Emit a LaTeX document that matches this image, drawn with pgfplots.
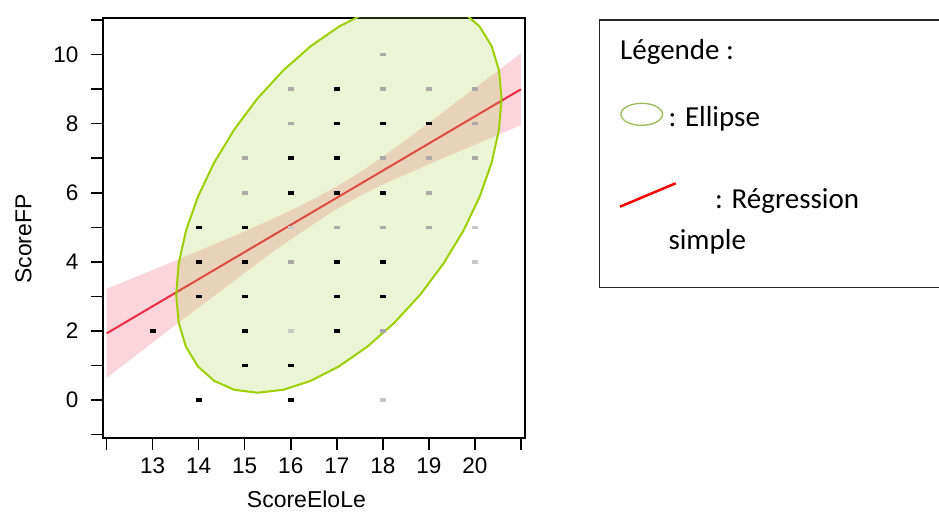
\documentclass[border=0pt]{standalone}
\usepackage{pgfplots}
\pgfplotsset{compat=1.18}
\usepackage{fontspec}
\setmainfont{Liberation Sans}
\newfontfamily\calib{Carlito}
\definecolor{bandpink}{RGB}{252,213,220}
\definecolor{regred}{RGB}{238,44,64}
\definecolor{ellfill}{RGB}{154,205,50}
\definecolor{elldraw}{RGB}{155,207,0}
\definecolor{ptdark}{RGB}{0,0,0}
\definecolor{ptmid}{RGB}{170,170,170}
\definecolor{ptlight}{RGB}{200,200,200}
\definecolor{legolive}{RGB}{155,187,89}
\begin{document}
\begin{tikzpicture}
\useasboundingbox (0pt,0pt) rectangle (939pt,514pt);
\begin{axis}[
  at={(103pt,76pt)}, anchor=south west,
  scale only axis, width=422pt, height=420pt,
  xmin=11.92, xmax=21.09, ymin=-1.10, ymax=11.06,
  xtick={12,...,21}, xticklabels={{},13,14,15,16,17,18,19,20,{}},
  ytick={-1,...,11}, yticklabels={{},0,{},2,{},4,{},6,{},8,{},10,{}},
  tick align=outside, tick pos=left,
  major tick length=12pt,
  axis line style={line width=1.5pt},
  tick style={line width=1.5pt, black},
  xticklabel style={font=\fontsize{22.5}{26}\selectfont, yshift=-4pt},
  yticklabel style={font=\fontsize{22.5}{26}\selectfont, xshift=-9pt},
  xlabel={ScoreEloLe}, ylabel={ScoreFP},
  every axis x label/.style={at={(axis description cs:0.482,-0.146)}, anchor=center, font=\fontsize{23}{27}\selectfont},
  every axis y label/.style={at={(axis description cs:-0.1886,0.4738)}, anchor=center, rotate=90, font=\fontsize{23}{27}\selectfont},
]
% confidence band
\addplot[fill=bandpink, draw=none] coordinates {
(12,3.22) (12.5,3.49) (13,3.765) (13.5,4.04) (14,4.32) (14.5,4.60) (15,4.885) (15.5,5.18) (16,5.49) (16.5,5.82) (17,6.185) (17.5,6.59) (18,7.04) (18.5,7.53) (19,8.025) (19.5,8.53) (20,9.03) (20.5,9.53) (21,10.04)
(21,7.96) (20.5,7.67) (20,7.39) (19.5,7.11) (19,6.825) (18.5,6.53) (18,6.24) (17.5,5.91) (17,5.525) (16.5,5.10) (16,4.65) (15.5,4.18) (15,3.685) (14.5,3.18) (14,2.68) (13.5,2.18) (13,1.665) (12.5,1.15) (12,0.64)};
% regression line
\addplot[regred, line width=2pt] coordinates {(12,1.93) (21,8.995)};
% points
\addplot[only marks, mark=-, mark size=3pt, mark options={line width=3.5pt}, color=ptlight] coordinates {
(16,5) (20,5) (20,4) (16,2) (18,0)};
\addplot[only marks, mark=-, mark size=3pt, mark options={line width=3.5pt}, color=ptmid] coordinates {
(18,10) (16,9) (18,9) (19,9) (20,9) (16,8) (20,8) (15,7) (18,7) (19,7) (20,7) (15,6) (19,6)
(17,5) (18,5) (19,5) (16,4) (18,2)};
\addplot[only marks, mark=-, mark size=3pt, mark options={line width=3.5pt}, color=ptdark] coordinates {
(17,9) (17,8) (18,8) (19,8) (16,7) (17,7) (16,6) (17,6) (18,6)
(14,5) (15,5) (14,4) (15,4) (17,4) (18,4) (14,3) (15,3) (17,3) (18,3)
(13,2) (15,2) (17,2) (15,1) (16,1) (14,0) (16,0)};
% ellipse
\addplot[draw=elldraw, line width=2pt, fill=ellfill, fill opacity=0.2] coordinates {
(20.58,8.73) (20.526,7.833) (20.367,6.876) (20.106,5.89) (19.753,4.904) (19.317,3.947) (18.813,3.05) (18.254,2.239) (17.659,1.539) (17.045,0.971) (16.431,0.553) (15.836,0.296) (15.277,0.21) (14.773,0.296) (14.337,0.553) (13.984,0.971) (13.723,1.539) (13.564,2.239) (13.51,3.05) (13.564,3.947) (13.723,4.904) (13.984,5.89) (14.337,6.876) (14.773,7.833) (15.277,8.73) (15.836,9.541) (16.431,10.241) (17.045,10.809) (17.659,11.227) (18.254,11.484) (18.813,11.57) (19.317,11.484) (19.753,11.227) (20.106,10.809) (20.367,10.241) (20.526,9.541) (20.58,8.73)};
\end{axis}
% legend box
\draw[line width=1.5pt, black!85] (599.3pt,494pt) rectangle (960pt,226.3pt);
\node[anchor=base west, inner sep=0pt, font=\calib\fontsize{29}{34}\selectfont] at (620pt,454.7pt) {Légende :};
\draw[legolive, line width=1.3pt] (641.7pt,399.7pt) ellipse [x radius=20.8pt, y radius=11pt];
\node[anchor=base west, inner sep=0pt, font=\calib\fontsize{29}{34}\selectfont] at (668.3pt,387.3pt) {: Ellipse};
\draw[red, line width=2.5pt] (620pt,307.3pt) -- (675.7pt,330.7pt);
\node[anchor=base west, inner sep=0pt, font=\calib\fontsize{29}{34}\selectfont] at (715pt,305.7pt) {: Régression};
\node[anchor=base west, inner sep=0pt, font=\calib\fontsize{29}{34}\selectfont] at (668.3pt,264.7pt) {simple};
\end{tikzpicture}
\end{document}
